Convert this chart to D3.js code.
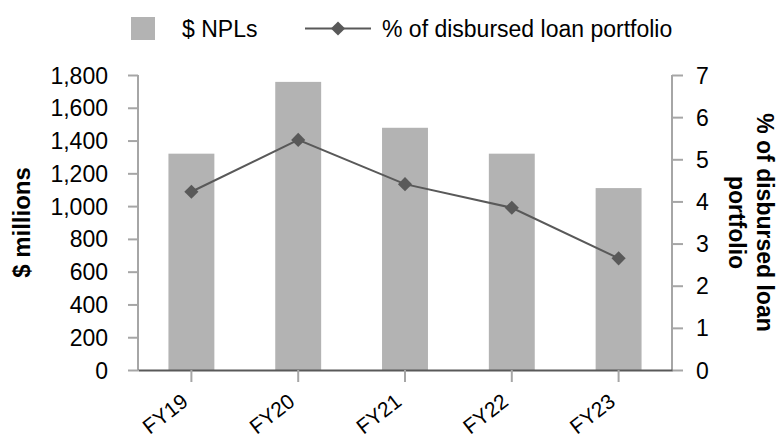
<!DOCTYPE html>
<html>
<head>
<meta charset="utf-8">
<script src="https://cdn.jsdelivr.net/npm/d3@7"></script>
<style>
  body { margin: 0; background: #fff; }
  svg text { font-family: "Liberation Sans", Arial, sans-serif; fill: #000; }
</style>
</head>
<body>
<div id="chart"></div>
<script>
// values
var years = ['FY19', 'FY20', 'FY21', 'FY22', 'FY23'];
var npls = [1320, 1758, 1478, 1320, 1110];
var pctLoans = [4.23, 5.46, 4.41, 3.85, 2.65];
var leftTicks = [0, 200, 400, 600, 800, 1000, 1200, 1400, 1600, 1800];
var rightTicks = [0, 1, 2, 3, 4, 5, 6, 7];

var width = 779, height = 437;
// plot edges (note: "top" is taken by window.top)
var plotL = 138, plotR = 672, plotT = 75, plotB = 370;

var svg = d3.select('#chart')
    .append('svg')
    .attr('width', width)
    .attr('height', height);

var x = d3.scaleBand()
    .domain(years)
    .range([plotL, plotR])
    .paddingInner(0.57)
    .paddingOuter(0.285);

var yLeft = d3.scaleLinear().domain([0, 1800]).range([plotB, plotT]);
var yRight = d3.scaleLinear().domain([0, 7]).range([plotB, plotT]);

// bars
svg.selectAll('rect.bar')
    .data(npls)
    .enter()
    .append('rect')
    .attr('class', 'bar')
    .attr('x', (d, i) => x(years[i]))
    .attr('width', x.bandwidth())
    .attr('y', d => yLeft(d))
    .attr('height', d => plotB - yLeft(d))
    .attr('fill', '#b3b3b3');

// left axis
var gLeft = svg.append('g')
    .attr('transform', 'translate(' + plotL + ',0)')
    .call(d3.axisLeft(yLeft).tickValues(leftTicks).tickSize(10).tickPadding(20).tickFormat(d3.format(',')));
gLeft.selectAll('text').style('font-size', '23px').attr('dy', '0.35em');

// right axis
var gRight = svg.append('g')
    .attr('transform', 'translate(' + plotR + ',0)')
    .call(d3.axisRight(yRight).tickValues(rightTicks).tickSize(11).tickPadding(13).tickFormat(d3.format('d')));
gRight.selectAll('text').style('font-size', '23px').attr('dy', '0.35em');

[gLeft, gRight].forEach(function (g) {
    g.select('.domain').attr('stroke', '#a6a6a6').attr('stroke-width', 2).attr('d', 'M0,' + plotT + 'V' + plotB);
    g.selectAll('.tick line').attr('stroke', '#a6a6a6').attr('stroke-width', 2);
});

// x axis
var gX = svg.append('g')
    .attr('transform', 'translate(0,' + plotB + ')')
    .call(d3.axisBottom(x).tickSize(12).tickSizeOuter(0));
gX.select('.domain').attr('stroke', '#595959').attr('stroke-width', 2);
gX.selectAll('.tick line').attr('stroke', '#a6a6a6').attr('stroke-width', 2);
gX.selectAll('.tick text')
    .style('font-size', '21px')
    .attr('text-anchor', 'end')
    .attr('y', 0)
    .attr('dy', 0)
    .attr('transform', 'translate(-2,34) rotate(-38)');

// line series
var line = d3.line()
    .x((d, i) => x(years[i]) + x.bandwidth() / 2)
    .y(d => yRight(d));

svg.append('path')
    .datum(pctLoans)
    .attr('d', line)
    .attr('fill', 'none')
    .attr('stroke', '#595959')
    .attr('stroke-width', 2);

var diamond = d3.symbol().type(d3.symbolSquare).size(100);
svg.selectAll('path.marker')
    .data(pctLoans)
    .enter()
    .append('path')
    .attr('class', 'marker')
    .attr('d', diamond)
    .attr('fill', '#595959')
    .attr('transform', (d, i) => 'translate(' + (x(years[i]) + x.bandwidth() / 2) + ',' + yRight(d) + ') rotate(45)');

// axis titles
svg.append('text')
    .attr('transform', 'translate(30,' + ((plotT + plotB) / 2) + ') rotate(-90)')
    .attr('text-anchor', 'middle')
    .style('font-size', '24px')
    .style('font-weight', 'bold')
    .text('$ millions');

var rTitle = svg.append('text')
    .attr('transform', 'translate(757,' + ((plotT + plotB) / 2) + ') rotate(90)')
    .attr('text-anchor', 'middle')
    .style('font-size', '23px')
    .style('font-weight', 'bold');
rTitle.append('tspan').attr('x', 0).attr('y', 0).text('% of disbursed loan');
rTitle.append('tspan').attr('x', 0).attr('y', 28).text('portfolio');

// legend
var legend = svg.append('g');
legend.append('rect')
    .attr('x', 131).attr('y', 17)
    .attr('width', 24).attr('height', 23)
    .attr('fill', '#b3b3b3');
legend.append('text')
    .attr('x', 182).attr('y', 37)
    .style('font-size', '23px')
    .text('$ NPLs');
legend.append('line')
    .attr('x1', 305).attr('x2', 371)
    .attr('y1', 28.5).attr('y2', 28.5)
    .attr('stroke', '#595959')
    .attr('stroke-width', 2);
legend.append('path')
    .attr('d', diamond)
    .attr('fill', '#595959')
    .attr('transform', 'translate(338,28.5) rotate(45)');
legend.append('text')
    .attr('x', 382).attr('y', 37)
    .style('font-size', '23px')
    .text('% of disbursed loan portfolio');
</script>
</body>
</html>
